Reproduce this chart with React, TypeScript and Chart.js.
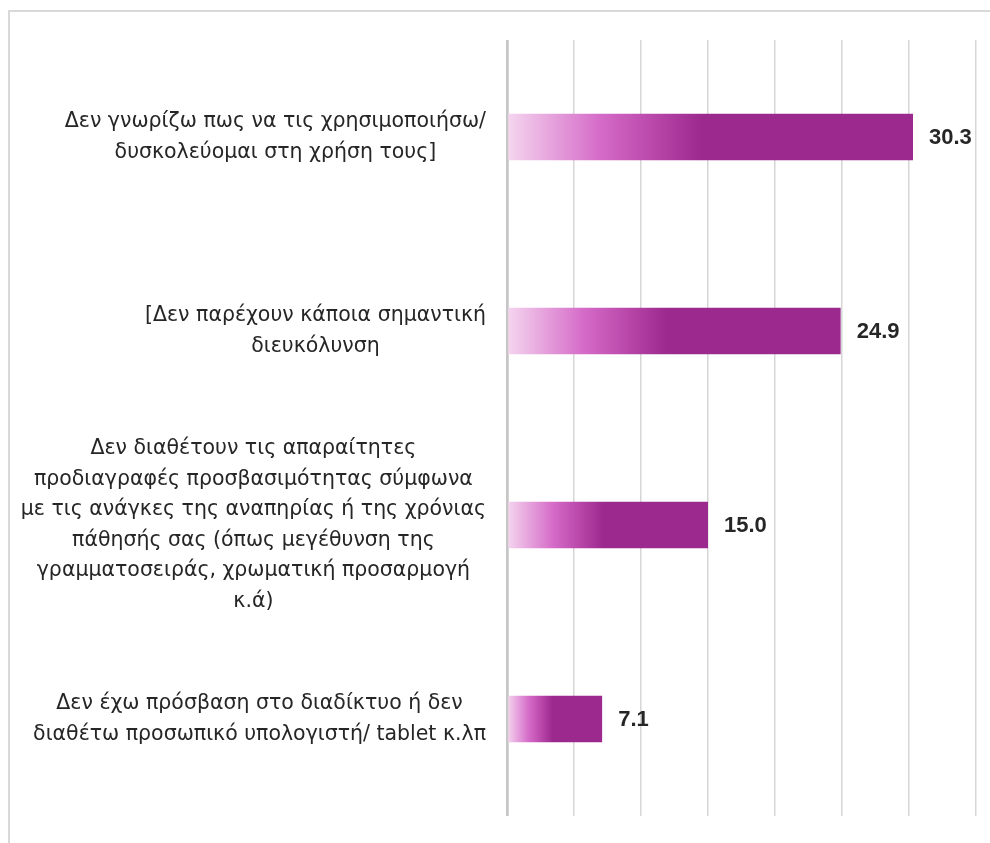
import { useEffect, useRef } from 'react';
import { Chart, registerables } from 'chart.js';

Chart.register(...registerables);

// one entry per bar, top to bottom; each entry is the wrapped lines of its label
const categories: string[][] = [
	['Δεν γνωρίζω πως να τις χρησιμοποιήσω/', 'δυσκολεύομαι στη χρήση τους]'],
	['[Δεν παρέχουν κάποια σημαντική', 'διευκόλυνση'],
	[
		'Δεν διαθέτουν τις απαραίτητες',
		'προδιαγραφές προσβασιμότητας σύμφωνα',
		'με τις ανάγκες της αναπηρίας ή της χρόνιας',
		'πάθησής σας (όπως μεγέθυνση της',
		'γραμματοσειράς, χρωματική προσαρμογή',
		'κ.ά)',
	],
	['Δεν έχω πρόσβαση στο διαδίκτυο ή δεν', 'διαθέτω προσωπικό υπολογιστή/ tablet κ.λπ'],
];
const values = [30.3, 24.9, 15.0, 7.1];
const axisMin = 0;
const axisMax = 35;
const axisStep = 5;

const labelFont = '20.5px "DejaVu Sans", sans-serif';
const valueFont = 'bold 22px "Liberation Sans", Arial, sans-serif';
const textColor = '#262626';
const barDark = '#9c2a8e';

// wrapped category labels: each block right-aligned to the axis, lines centred in the block
const categoryLabels = {
	id: 'categoryLabels',
	afterDraw(chart: Chart) {
		const { ctx, chartArea, scales } = chart;
		const yScale = scales.y;
		const lineHeight = 30.5;
		ctx.save();
		ctx.font = labelFont;
		ctx.fillStyle = textColor;
		ctx.textAlign = 'center';
		ctx.textBaseline = 'middle';
		categories.forEach((lines, i) => {
			const yc = yScale.getPixelForValue(i);
			const blockW = Math.max(...lines.map((l) => ctx.measureText(l).width));
			const right = chartArea.left - 21;
			const cx = right - blockW / 2;
			const top = yc - ((lines.length - 1) * lineHeight) / 2;
			lines.forEach((line, j) => ctx.fillText(line, cx, top + j * lineHeight));
		});
		ctx.restore();
	},
};

// bold value next to the end of each bar
const valueLabels = {
	id: 'valueLabels',
	afterDatasetsDraw(chart: Chart) {
		const { ctx } = chart;
		const meta = chart.getDatasetMeta(0);
		ctx.save();
		ctx.font = valueFont;
		ctx.fillStyle = textColor;
		ctx.textAlign = 'left';
		ctx.textBaseline = 'middle';
		meta.data.forEach((bar: any, i) => {
			ctx.fillText(values[i].toFixed(1), bar.x + 16, bar.y + 1);
		});
		ctx.restore();
	},
};

function BarChart() {
	const canvasRef = useRef<HTMLCanvasElement | null>(null);

	useEffect(() => {
		if (!canvasRef.current) return undefined;
		const chart = new Chart(canvasRef.current, {
			type: 'bar',
			data: {
				labels: categories,
				datasets: [
					{
						data: values,
						backgroundColor: (c: any) => {
							const ch = c.chart;
							const xs = ch.scales?.x;
							if (!ch.chartArea || !xs || typeof c.raw !== 'number') return barDark;
							const x0 = xs.getPixelForValue(0);
							const x1 = xs.getPixelForValue(c.raw);
							const g = ch.ctx.createLinearGradient(x0, 0, x1, 0);
							g.addColorStop(0, '#f5d6ef');
							g.addColorStop(0.23, '#d56bc8');
							g.addColorStop(0.37, '#b745a8');
							g.addColorStop(0.48, barDark);
							g.addColorStop(1, barDark);
							return g;
						},
						borderWidth: 0,
						categoryPercentage: 1,
						barPercentage: 0.24,
					},
				],
			},
			options: {
				indexAxis: 'y',
				animation: false,
				responsive: true,
				maintainAspectRatio: false,
				layout: { padding: { left: 497, right: 14, top: 28, bottom: 27 } },
				plugins: {
					legend: { display: false },
					tooltip: { enabled: false },
				},
				scales: {
					x: {
						min: axisMin,
						max: axisMax,
						ticks: { display: false, stepSize: axisStep },
						border: { display: false },
						grid: {
							drawTicks: false,
							color: (c: any) => (c.tick?.value === 0 ? '#c6c6c6' : '#d6d6d6'),
							lineWidth: (c: any) => (c.tick?.value === 0 ? 2.75 : 1.5),
						},
						afterFit: (scale: any) => {
							scale.height = 0;
						},
					},
					y: {
						display: false,
					},
				},
			},
			plugins: [categoryLabels, valueLabels],
		});
		return () => chart.destroy();
	}, []);

	return (
		<div
			style={{
				position: 'fixed',
				left: 8,
				top: 10,
				width: 982,
				height: 833,
				boxSizing: 'border-box',
				borderTop: '2px solid #d9d9d9',
				borderLeft: '2px solid #d9d9d9',
				background: '#fff',
			}}
		>
			<div style={{ position: 'relative', width: 980, height: 831 }}>
				<canvas ref={canvasRef}></canvas>
			</div>
		</div>
	);
}

export default function App() {
	return <BarChart />;
}
